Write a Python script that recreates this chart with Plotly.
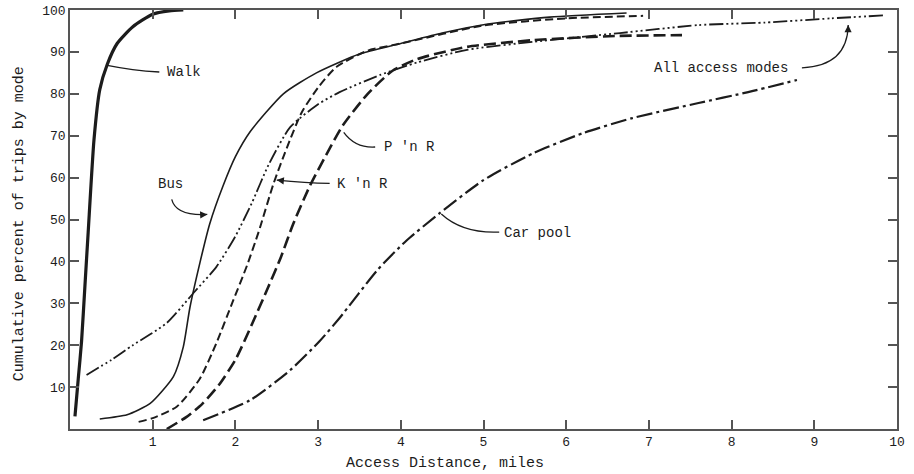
import plotly.graph_objects as go

# ---- data ----
walk_x = [0.06, 0.10, 0.14, 0.18, 0.22, 0.29, 0.36, 0.45, 0.57, 0.76, 1.0, 1.2, 1.37]
walk_y = [3.0, 12.0, 21.0, 34.0, 47.0, 69.0, 81.0, 87.0, 92.0, 96.0, 99.0, 99.8, 100.0]

bus_x = [0.36, 0.69, 0.97, 1.25, 1.37, 1.45, 1.57, 1.69, 1.85, 2.0, 2.18, 2.58, 2.98, 3.5, 4.0, 4.5, 5.0, 5.8, 6.73]
bus_y = [2.4, 3.4, 6.1, 12.5, 19.6, 29.0, 39.6, 49.0, 58.0, 65.0, 71.0, 80.0, 85.0, 89.5, 92.0, 94.5, 96.5, 98.3, 99.3]

knr_x = [0.83, 1.0, 1.29, 1.57, 1.77, 1.97, 2.14, 2.28, 2.46, 2.62, 2.8, 3.0, 3.22, 3.6, 4.0, 5.0, 6.0, 6.93]
knr_y = [1.7, 2.6, 5.3, 12.0, 20.5, 30.5, 39.0, 47.0, 58.5, 67.0, 75.5, 81.5, 86.4, 90.3, 92.0, 96.3, 98.0, 98.6]

pnr_x = [1.17, 1.41, 1.6, 1.8, 2.0, 2.2, 2.4, 2.55, 2.7, 2.9, 3.1, 3.3, 3.6, 3.9, 4.2, 4.8, 5.6, 6.6, 7.4]
pnr_y = [0.0, 2.9, 6.0, 10.5, 16.5, 25.0, 34.0, 41.0, 49.0, 58.0, 65.5, 72.5, 80.0, 85.5, 88.3, 91.2, 92.8, 93.8, 94.0]

all_x = [0.2, 0.5, 0.76, 1.17, 1.49, 1.77, 2.0, 2.2, 2.4, 2.66, 3.0, 3.26, 3.75, 4.2, 4.8, 5.6, 6.65, 7.6, 8.4, 9.2, 9.83]
all_y = [12.9, 16.5, 20.0, 25.3, 32.4, 38.7, 46.0, 54.0, 63.0, 72.0, 77.5, 80.4, 84.5, 87.5, 90.5, 92.4, 94.5, 96.4, 97.0, 98.0, 98.7]

car_x = [1.61, 2.18, 2.66, 3.02, 3.26, 3.72, 4.07, 4.47, 5.0, 5.6, 6.2, 6.8, 7.6, 8.2, 8.79]
car_y = [2.1, 6.9, 14.0, 21.0, 26.5, 38.0, 45.0, 51.5, 59.4, 65.8, 70.6, 74.2, 77.8, 80.4, 83.3]

x_ticks = [1, 2, 3, 4, 5, 6, 7, 8, 9, 10]
y_ticks = [10, 20, 30, 40, 50, 60, 70, 80, 90, 100]

INK = "#1c1c1c"
FONT = "Liberation Mono"

series = [
    (walk_x, walk_y, "Walk", 3.2, "solid"),
    (bus_x, bus_y, "Bus", 1.6, "solid"),
    (knr_x, knr_y, "K 'n R", 2.0, "8px,4px"),
    (pnr_x, pnr_y, "P 'n R", 2.6, "12px,5px"),
    (all_x, all_y, "All access modes", 1.8, "14px,3px,2px,3px,2px,3px,2px,3px"),
    (car_x, car_y, "Car pool", 2.2, "16px,4px,3px,4px"),
]

fig = go.Figure()
for xs, ys, name, w, dash in series:
    fig.add_trace(go.Scatter(x=xs, y=ys, mode="lines", name=name,
                             line=dict(color=INK, width=w, dash=dash, shape="spline", smoothing=0.6),
                             showlegend=False, hoverinfo="skip"))

# labels: (text, text x, text y, xanchor, tail(x,y), control(x,y), head(x,y))
labels = [
    ("Walk", 1.15, 85.2, "left", (1.08, 85.2), (0.75, 85.6), (0.45, 86.8)),
    ("Bus", 1.21, 58.4, "center", (1.23, 54.8), (1.28, 50.8), (1.66, 51.2)),
    ("K 'n R", 3.20, 58.5, "left", (3.14, 58.6), (2.85, 58.7), (2.50, 59.4)),
    ("P 'n R", 3.77, 67.3, "left", (3.69, 67.3), (3.45, 67.0), (3.31, 70.8)),
    ("Car pool", 5.22, 46.8, "left", (5.19, 47.0), (4.75, 46.6), (4.49, 51.3)),
    ("All access modes", 7.04, 86.2, "left", (8.85, 86.2), (9.40, 86.6), (9.41, 96.4)),
]

for text, tx, ty, xa, tail, ctrl, head in labels:
    fig.add_annotation(x=tx, y=ty, text=text, showarrow=False, xanchor=xa, yanchor="middle",
                       font=dict(family=FONT, size=14, color=INK))
    fig.add_shape(type="path", xref="x", yref="y",
                  path=f"M {tail[0]},{tail[1]} Q {ctrl[0]},{ctrl[1]} {head[0]},{head[1]}",
                  line=dict(color=INK, width=1.3))
    bx = head[0] + 0.12 * (ctrl[0] - head[0])
    by = head[1] + 0.12 * (ctrl[1] - head[1])
    fig.add_annotation(x=head[0], y=head[1], ax=bx, ay=by, axref="x", ayref="y", xref="x", yref="y",
                       text="", showarrow=True, arrowhead=2, arrowsize=1.1, arrowwidth=1.3,
                       arrowcolor=INK, standoff=0, startstandoff=0)

fig.add_annotation(x=0.453, y=-0.082, xref="paper", yref="paper", text="Access Distance, miles",
                   showarrow=False, xanchor="center", yanchor="middle",
                   font=dict(family=FONT, size=15, color=INK))
fig.add_annotation(x=-0.061, y=0.49, xref="paper", yref="paper",
                   text="Cumulative percent of trips by mode", textangle=-90,
                   showarrow=False, xanchor="center", yanchor="middle",
                   font=dict(family=FONT, size=15, color=INK))

axis_common = dict(showline=True, linecolor="#555555", linewidth=1.6, mirror="ticks",
                   ticks="inside", ticklen=9, tickwidth=1.5, tickcolor="#555555",
                   showgrid=False, zeroline=False, automargin=False,
                   tickfont=dict(family=FONT, size=13, color=INK))

fig.update_xaxes(range=[0, 10], tickvals=x_ticks, ticktext=[str(v) for v in x_ticks], **axis_common)
fig.update_yaxes(range=[0, 100], tickvals=y_ticks, ticktext=[str(v) for v in y_ticks], **axis_common)

fig.update_layout(width=914, height=474, margin=dict(l=70, r=17, t=10, b=45, autoexpand=False),
                  paper_bgcolor="white", plot_bgcolor="white")

fig.write_html("out.html", config={"displayModeBar": False},
               post_script="document.body.style.margin='0';document.body.style.overflow='hidden';")
